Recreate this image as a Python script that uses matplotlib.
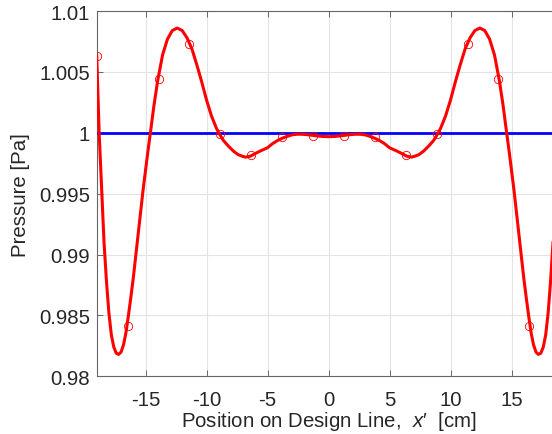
import matplotlib
matplotlib.use("Agg")
import matplotlib.pyplot as plt

# courbe rouge
curve_x = [-19.0, -18.8, -18.6, -18.4, -18.2, -18.0, -17.8, -17.6, -17.4, -17.2,
           -17.0, -16.8, -16.6, -16.4, -16.2, -16.0, -15.6, -15.2, -14.8, -14.6,
           -14.3, -14.0, -13.6, -13.2, -12.8, -12.4, -12.0, -11.6, -11.2, -10.8,
           -10.4, -10.0, -9.6, -9.2, -9.0, -8.6, -8.2, -7.8, -7.4, -7.0, -6.8,
           -6.4, -6.0, -5.6, -5.0, -4.6, -4.2, -3.8, -3.4, -3.0, -2.6, -2.2,
           -1.8, -1.4, -1.0, -0.5, 0.0,
           0.5, 1.0, 1.4, 1.8, 2.2, 2.6, 3.0, 3.4, 3.8, 4.2, 4.6, 5.0, 5.6,
           6.0, 6.4, 6.8, 7.0, 7.4, 7.8, 8.2, 8.6, 9.0, 9.2, 9.6, 10.0, 10.4,
           10.8, 11.2, 11.6, 12.0, 12.4, 12.8, 13.2, 13.6, 14.0, 14.3, 14.6,
           14.8, 15.2, 15.6, 16.0, 16.2, 16.4, 16.6, 16.8, 17.0, 17.2, 17.4,
           17.6, 17.8, 18.0, 18.2, 18.4, 18.6, 18.8, 19.0]
curve_p = [1.0063, 1.0000, 0.9955, 0.9910, 0.9878, 0.9852, 0.9834, 0.9824, 0.9819, 0.9818,
           0.9820, 0.9826, 0.9836, 0.9850, 0.9865, 0.9881, 0.9917, 0.9953, 0.9985, 1.0000,
           1.0023, 1.0043, 1.0064, 1.0077, 1.0084, 1.0086, 1.0084, 1.0078, 1.0069, 1.0056,
           1.0042, 1.0027, 1.0014, 1.0004, 1.0000, 0.99935, 0.9989, 0.9985, 0.9982, 0.99805, 0.9980,
           0.99808, 0.9983, 0.9985, 0.99877, 0.9991, 0.99935, 0.99955, 0.9997, 0.99983, 0.99988, 0.99988,
           0.99985, 0.9998, 0.99975, 0.9997, 0.99968,
           0.9997, 0.99975, 0.9998, 0.99985, 0.99988, 0.99988, 0.99983, 0.9997, 0.99955, 0.99935, 0.9991, 0.99877, 0.9985,
           0.9983, 0.99808, 0.9980, 0.99805, 0.9982, 0.9985, 0.9989, 0.99935, 1.0000, 1.0004, 1.0014, 1.0027, 1.0042,
           1.0056, 1.0069, 1.0078, 1.0084, 1.0086, 1.0084, 1.0077, 1.0064, 1.0043, 1.0023, 1.0000,
           0.9985, 0.9953, 0.9917, 0.9881, 0.9865, 0.9850, 0.9836, 0.9826, 0.9820, 0.9818, 0.9819,
           0.9824, 0.9834, 0.9852, 0.9878, 0.9910, 0.9955, 1.0000, 1.0063]

# points de mesure (cercles)
pts_x = [-19.0, -16.47, -13.93, -11.4, -8.87, -6.33, -3.8, -1.27,
         1.27, 3.8, 6.33, 8.87, 11.4, 13.93, 16.47, 19.0]
pts_p = [1.0063, 0.9841, 1.0044, 1.0073, 0.9999, 0.9982, 0.99963, 0.99973,
         0.99973, 0.99963, 0.9982, 0.9999, 1.0073, 1.0044, 0.9841, 1.0063]

# cible (ligne bleue)
target_x = [-19.0, 19.0]
target_p = [1.0, 1.0]

xticks = [-15, -10, -5, 0, 5, 10, 15]
yticks = [0.98, 0.985, 0.99, 0.995, 1.0, 1.005, 1.01]
ytick_labels = ["0.98", "0.985", "0.99", "0.995", "1", "1.005", "1.01"]

plt.rcParams["font.family"] = ["Liberation Sans", "DejaVu Sans"]
plt.rcParams["mathtext.fontset"] = "custom"
plt.rcParams["mathtext.it"] = "Liberation Sans:italic"
plt.rcParams["mathtext.rm"] = "Liberation Sans"
plt.rcParams["axes.unicode_minus"] = False

fig = plt.figure(figsize=(5.52, 4.35), dpi=100)
ax = fig.add_axes([0.1752, 0.1326, 0.8399, 0.8398])

ax.plot(target_x, target_p, color=(0, 0, 1), lw=2.0, zorder=3)
ax.plot(curve_x, curve_p, color=(1, 0, 0), lw=2.2, zorder=4)
ax.plot(pts_x, pts_p, "o", mfc="none", mec=(1, 0, 0), ms=6, mew=0.6, zorder=5)

ax.set_xlim(-19, 19)
ax.set_ylim(0.98, 1.01)
ax.set_xticks(xticks)
ax.set_yticks(yticks)
ax.set_yticklabels(ytick_labels)

ax.grid(True, color="#e3e3e3", lw=0.8)
ax.set_axisbelow(True)
ax.tick_params(direction="in", length=4, width=0.6, colors="#555555",
               labelsize=14.7, labelcolor="#262626", top=True, right=True)
ax.tick_params(axis="x", pad=10)
ax.tick_params(axis="y", pad=5)
for s in ax.spines.values():
    s.set_color("#666666")
    s.set_linewidth(0.8)

ax.set_ylabel("Pressure [Pa]", fontsize=14.7, color="#262626", labelpad=6)
ax.set_xlabel("Position on Design Line,  $x$\u2032  [cm]", fontsize=14.7,
              color="#262626", labelpad=0)

fig.savefig("out.png", dpi=100)
